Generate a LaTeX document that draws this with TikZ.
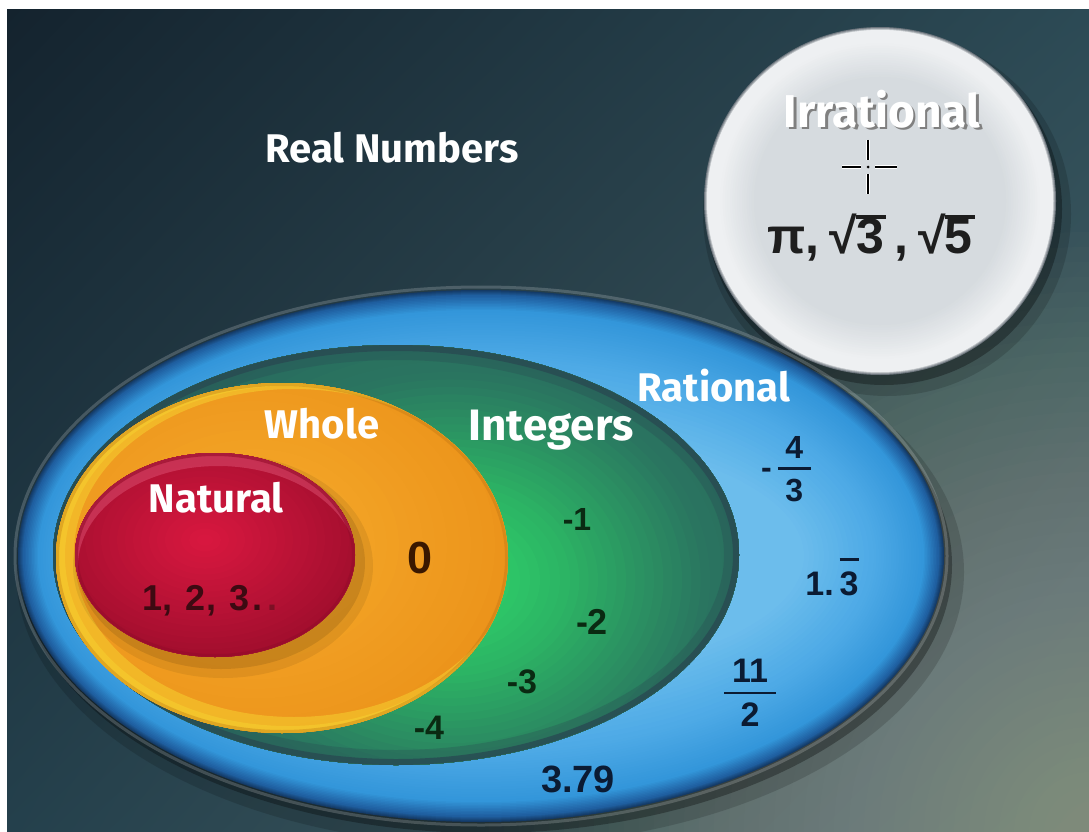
\documentclass[tikz,border=0pt]{standalone}
\usepackage{fontspec}
\setmainfont{Liberation Sans}
\newfontfamily\labfont{Fira Sans}
\usepackage{graphicx}
\usetikzlibrary{shadings}

\definecolor{bgTL}{HTML}{14232E}
\definecolor{bgTR}{HTML}{2C4A55}
\definecolor{bgBL}{HTML}{24404C}
\definecolor{bgBR}{HTML}{4E6668}
\definecolor{bgGlow}{HTML}{A8AE9E}
\definecolor{bA}{HTML}{143A66}
\definecolor{bB}{HTML}{1F5FA0}
\definecolor{bC}{HTML}{3396DA}
\definecolor{bD}{HTML}{4EAAE6}
\definecolor{bE}{HTML}{6CBDEC}
\definecolor{gA}{HTML}{25545A}
\definecolor{gB}{HTML}{2A7560}
\definecolor{gC}{HTML}{2CB464}
\definecolor{gD}{HTML}{2EDC6C}
\definecolor{gRim}{HTML}{284A52}
\definecolor{oA}{HTML}{EA9018}
\definecolor{oB}{HTML}{F7AC2C}
\definecolor{oRim}{HTML}{F6D030}
\definecolor{rA}{HTML}{960C2A}
\definecolor{rB}{HTML}{DA1840}
\definecolor{rHi}{HTML}{E2587A}
\definecolor{iA}{HTML}{6E767E}
\definecolor{iB}{HTML}{EEF0F2}
\definecolor{iC}{HTML}{D6DBDF}
\definecolor{intc}{HTML}{0A2A12}
\definecolor{ratc}{HTML}{0B1B33}
\definecolor{natc}{HTML}{3D0A12}
\definecolor{zeroc}{HTML}{3A1800}
\definecolor{irrc}{HTML}{1E1E1E}

% concentric elliptic rings by inward offset
\newcommand\erings[9]{\foreach \k in {0,...,#9}{%
  \pgfmathsetmacro\dd{#5+(#6-#5)*\k/#9}%
  \pgfmathtruncatemacro\pp{100*\k/#9}%
  \fill[#8!\pp!#7] (#1,#2) ellipse [x radius={#3pt-\dd pt}, y radius={#4pt-\dd pt}];}}
% radial elliptic rings (centre, r0, r1, c0, c1, steps, aspect)
\newcommand\crings[8]{\foreach \k in {0,...,#7}{%
  \pgfmathsetmacro\rr{#3+(#4-#3)*\k/#7}%
  \pgfmathsetmacro\ry{\rr*#8}%
  \pgfmathtruncatemacro\pp{100*\k/#7}%
  \fill[#6!\pp!#5] (#1,#2) ellipse [x radius={\rr pt}, y radius={\ry pt}];}}
% text with drop shadow
\newcommand\shd[2]{\leavevmode\rlap{\kern2.5pt\raisebox{-2.5pt}{\textcolor{#1}{#2}}}#2}
% square root with bar
\newcommand\rt[1]{√\kern-0.5pt\rlap{\rule[0.70em]{0.6em}{0.075em}}#1}
% stacked fraction
\newcommand\frc[4]{\vbox{\offinterlineskip\halign{\hfil##\hfil\cr #1\cr\noalign{\kern#4}\rule{#3}{2.5pt}\cr\noalign{\kern#4}#2\cr}}}

\tikzset{
  lab/.style={text=white, inner sep=0pt, font=\labfont\bfseries\fontsize{40}{44}\selectfont},
  num/.style={inner sep=0pt, font=\bfseries\fontsize{32}{36}\selectfont},
  intnum/.style={num, text=intc},
  ratnum/.style={num, text=ratc},
}

\begin{document}
\begin{tikzpicture}[x=1pt,y=-1pt]
\useasboundingbox (0,0) rectangle (1089,832);
\fill[white] (0,0) rectangle (1089,832);
\shade[upper left=bgTL, upper right=bgTR, lower left=bgBL, lower right=bgBR] (7,10) rectangle (1089,832);
\begin{scope}
\clip (7,10) rectangle (1089,832);
\foreach \r in {600,585,...,30}{\fill[bgGlow, opacity=.028] (1089,832) circle [radius=\r pt];}
\end{scope}

% ---------- Irrational set ----------
\fill[black, opacity=.15] (887,214) ellipse [x radius=184pt, y radius=182pt];
\fill[black, opacity=.3] (884,209) ellipse [x radius=178pt, y radius=176pt];
\erings{880}{201}{176}{174}{0}{3}{iA}{iB}{3}
\erings{880}{201}{176}{174}{3}{14}{iB}{iB}{2}
\erings{880}{201}{176}{174}{14}{50}{iB}{iC}{15}

% ---------- Rational set ----------
\fill[black, opacity=.15] (490,572) ellipse [x radius=474pt, y radius=274pt];
\fill[black, opacity=.3] (486,565) ellipse [x radius=466pt, y radius=268pt];
\draw[white, opacity=.18, line width=3pt] (481,556) ellipse [x radius=466pt, y radius=269pt];
\erings{481}{556}{463}{266}{0}{5}{bA}{bB}{5}
\erings{481}{556}{463}{266}{5}{20}{bB}{bC}{10}
\erings{481}{556}{463}{266}{20}{70}{bC}{bD}{20}
\erings{481}{556}{463}{266}{70}{140}{bD}{bE}{14}

% ---------- Integers set ----------
\begin{scope}
\clip (396,555) ellipse [x radius=343pt, y radius=210pt];
\fill[gA] (40,330) rectangle (760,780);
\crings{450}{580}{520}{260}{gA}{gB}{20}{0.8}
\crings{450}{580}{260}{120}{gB}{gC}{15}{0.8}
\crings{450}{580}{120}{0}{gC}{gD}{12}{0.8}
\draw[gRim, line width=30pt, opacity=.3] (396,555) ellipse [x radius=343pt, y radius=210pt];
\draw[gRim, line width=12pt, opacity=.8] (396,555) ellipse [x radius=343pt, y radius=210pt];
\end{scope}

% ---------- Whole set ----------
\begin{scope}
\clip (282,558) ellipse [x radius=226pt, y radius=175pt];
\crings{255}{545}{300}{0}{oA}{oB}{25}{0.8}
\fill[oRim, opacity=.55, even odd rule] (282,558) ellipse [x radius=226pt, y radius=175pt] (294,553) ellipse [x radius=220pt, y radius=164pt];
\fill[oRim, opacity=.55, even odd rule] (282,558) ellipse [x radius=226pt, y radius=175pt] (288,556) ellipse [x radius=223pt, y radius=170pt];
\draw[oA!80!black, line width=6pt, opacity=.35] (282,558) ellipse [x radius=226pt, y radius=175pt];
\fill[black, opacity=.07] (223,566) ellipse [x radius=150pt, y radius=112pt];
\fill[black, opacity=.10] (221,563) ellipse [x radius=144pt, y radius=106pt];
\end{scope}

% ---------- Natural set ----------
\begin{scope}
\clip (215,555) ellipse [x radius=140pt, y radius=102pt];
\crings{205}{540}{200}{0}{rA}{rB}{25}{0.72}
\fill[rHi, opacity=.45, even odd rule] (215,555) ellipse [x radius=140pt, y radius=102pt] (218,566) ellipse [x radius=140pt, y radius=100pt];
\draw[rA, line width=6pt, opacity=.6] (215,555) ellipse [x radius=140pt, y radius=102pt];
\end{scope}

% ---------- labels ----------
\node[lab] (real) at (392,148) {Real Numbers};
\node[lab, font=\labfont\bfseries\fontsize{46}{50}\selectfont] (irr) at (882,110) {\shd{black!50}{Irrational}};
\node[num, text=irrc, font=\bfseries\fontsize{50}{56}\selectfont] (irrv) at (870,238) {π,\kern10pt\rt{3}\kern10pt,\kern10pt\rt{5}};
\node[lab] (rat) at (714,386) {Rational};
\node[lab, font=\labfont\bfseries\fontsize{44}{48}\selectfont] (int) at (551,430) {Integers};
\node[lab] (whole) at (322,424) {Whole};
\node[lab] (nat) at (216,498) {Natural};

\node[num, text=natc, font=\bfseries\fontsize{36}{40}\selectfont] (n123) at (210,601) {1,\kern13pt2,\kern13pt3\kern3pt.\kern5pt\textcolor{natc!60!rB}{.}};
\node[num, text=zeroc, font=\bfseries\fontsize{45}{50}\selectfont] (zero) at (420,558) {0};

\node[intnum, font=\bfseries\fontsize{32}{36}\selectfont] (m1) at (577,519) {-1};
\node[intnum, font=\bfseries\fontsize{36}{40}\selectfont] (m2) at (592,622) {-2};
\node[intnum, font=\bfseries\fontsize{34}{38}\selectfont] (m3) at (522,682) {-3};
\node[intnum, font=\bfseries\fontsize{34}{38}\selectfont] (m4) at (429,728) {-4};

\node[ratnum] (f43) at (786,469) {\raisebox{23pt}{-}\kern6pt\frc{4}{3}{33pt}{9pt}};
\node[ratnum, font=\bfseries\fontsize{34}{38}\selectfont] (r13) at (832,577) {1.\kern6pt\rlap{\rule[1.0em]{0.556em}{0.08em}}3};
\node[ratnum, font=\bfseries\fontsize{34}{38}\selectfont] (f112) at (750,693) {\frc{11}{2}{52pt}{9pt}};
\node[ratnum, font=\bfseries\fontsize{38}{42}\selectfont] (r379) at (578,779) {3.79};

% ---------- cursor ----------
\draw[white, line width=4pt] (868,140) -- (868,160) (868,174) -- (868,194) (842,167) -- (861,167) (875,167) -- (897,167);
\draw[black, line width=2pt] (868,140) -- (868,160) (868,174) -- (868,194) (842,167) -- (861,167) (875,167) -- (897,167);
\fill[black] (868,167) circle [radius=1.5pt];
\end{tikzpicture}
\end{document}
